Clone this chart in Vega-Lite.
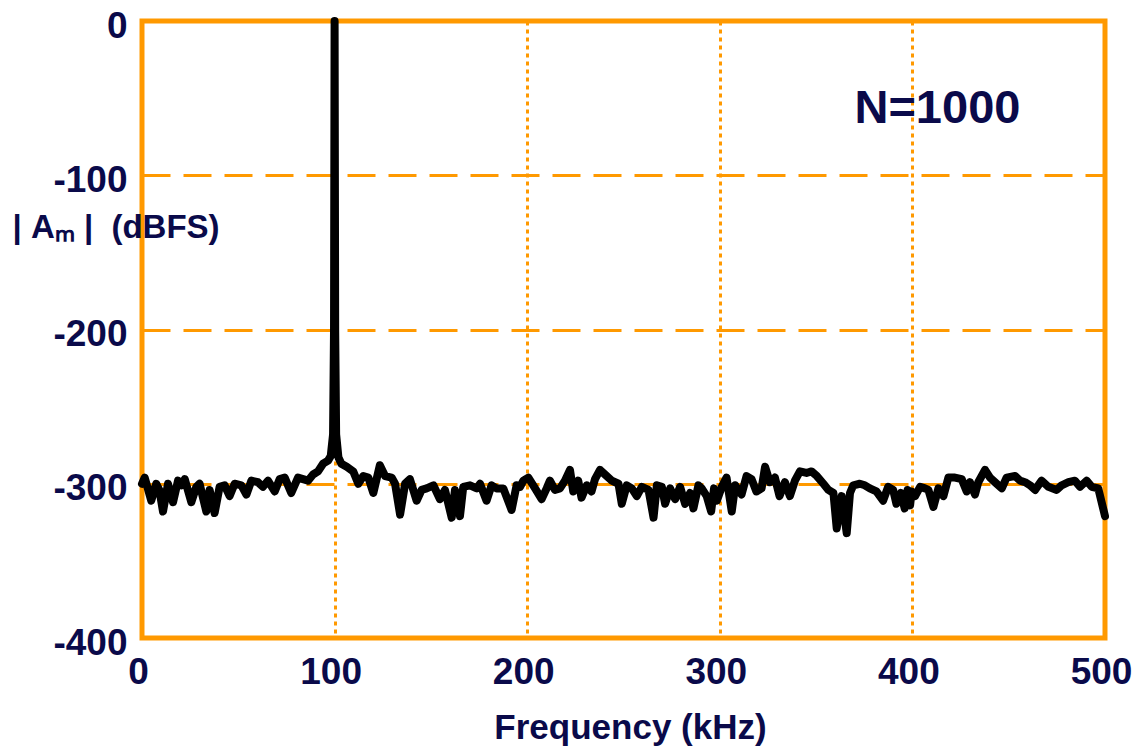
{
  "$schema": "https://vega.github.io/schema/vega-lite/v6.json",
  "width": 963,
  "height": 617,
  "autosize": "none",
  "padding": {"left": 142, "top": 21, "right": 33, "bottom": 109},
  "background": "white",
  "config": {
    "view": {"stroke": "#FF9900", "strokeWidth": 5},
    "axis": {
      "ticks": false,
      "domain": false,
      "labelFont": "Liberation Sans",
      "labelFontWeight": "bold",
      "labelFontSize": 37,
      "labelColor": "#0a0a4a",
      "labelExpr": "'' + datum.value",
      "titleFont": "Liberation Sans",
      "titleFontWeight": "bold",
      "titleColor": "#0a0a4a",
      "gridColor": "#FF9900",
      "gridOpacity": 1
    }
  },
  "layer": [
    {
      "data": {
        "values": [
          {"f": 0, "db": -300}, {"f": 1.4, "db": -296}, {"f": 3, "db": -303}, {"f": 4.8, "db": -311},
          {"f": 7.4, "db": -300}, {"f": 9, "db": -304}, {"f": 10.9, "db": -318}, {"f": 13.5, "db": -300},
          {"f": 16.1, "db": -312}, {"f": 18.7, "db": -298}, {"f": 20.5, "db": -301}, {"f": 22.2, "db": -297},
          {"f": 25.6, "db": -312}, {"f": 28.2, "db": -302}, {"f": 29.9, "db": -300}, {"f": 33.4, "db": -318},
          {"f": 35.1, "db": -304}, {"f": 37.7, "db": -319}, {"f": 40.3, "db": -302}, {"f": 42.9, "db": -301},
          {"f": 45.5, "db": -308}, {"f": 48.1, "db": -300}, {"f": 51.6, "db": -301}, {"f": 54.2, "db": -307},
          {"f": 56.8, "db": -298}, {"f": 60.2, "db": -299}, {"f": 62.8, "db": -302}, {"f": 65.4, "db": -298},
          {"f": 68.9, "db": -305}, {"f": 71.5, "db": -297}, {"f": 74.1, "db": -296}, {"f": 77.5, "db": -306},
          {"f": 81, "db": -296}, {"f": 83.6, "db": -297}, {"f": 86.2, "db": -298}, {"f": 88.8, "db": -294},
          {"f": 91.4, "db": -292}, {"f": 94, "db": -287}, {"f": 96.6, "db": -285}, {"f": 98, "db": -282},
          {"f": 99.2, "db": -268}, {"f": 99.7, "db": -200}, {"f": 100, "db": 0}, {"f": 100.3, "db": -200},
          {"f": 100.8, "db": -268}, {"f": 102, "db": -283}, {"f": 103.5, "db": -287}, {"f": 106.3, "db": -289},
          {"f": 109.7, "db": -292}, {"f": 112.3, "db": -300}, {"f": 114.9, "db": -295}, {"f": 117.5, "db": -296},
          {"f": 120.1, "db": -306}, {"f": 123.5, "db": -288}, {"f": 126.2, "db": -295}, {"f": 129.6, "db": -296},
          {"f": 131.4, "db": -300}, {"f": 134, "db": -320}, {"f": 136.6, "db": -300}, {"f": 139.1, "db": -297},
          {"f": 142.6, "db": -311}, {"f": 145.2, "db": -304}, {"f": 147.8, "db": -303}, {"f": 151.3, "db": -301},
          {"f": 154.7, "db": -310}, {"f": 157.3, "db": -304}, {"f": 160.8, "db": -322}, {"f": 162.5, "db": -304},
          {"f": 165.1, "db": -321}, {"f": 166.8, "db": -302}, {"f": 170.3, "db": -301}, {"f": 173.8, "db": -303},
          {"f": 175.5, "db": -300}, {"f": 178.9, "db": -311}, {"f": 181.5, "db": -301}, {"f": 184.1, "db": -303},
          {"f": 187.6, "db": -303}, {"f": 191.9, "db": -317}, {"f": 194.5, "db": -301}, {"f": 196.3, "db": -302},
          {"f": 198, "db": -298}, {"f": 200.6, "db": -296}, {"f": 204.1, "db": -303}, {"f": 207.5, "db": -310},
          {"f": 210.1, "db": -303}, {"f": 211.8, "db": -298}, {"f": 214.4, "db": -304}, {"f": 217, "db": -303},
          {"f": 219.6, "db": -298}, {"f": 222.2, "db": -291}, {"f": 223.9, "db": -305}, {"f": 226.5, "db": -298},
          {"f": 228.2, "db": -309}, {"f": 230.9, "db": -301}, {"f": 233.4, "db": -305}, {"f": 235.2, "db": -297},
          {"f": 237.8, "db": -291}, {"f": 240.4, "db": -294}, {"f": 243.9, "db": -298}, {"f": 247.4, "db": -300},
          {"f": 249.1, "db": -313}, {"f": 251.7, "db": -301}, {"f": 254.3, "db": -303}, {"f": 256.9, "db": -308},
          {"f": 259.5, "db": -302}, {"f": 263, "db": -304}, {"f": 265.6, "db": -322}, {"f": 267.3, "db": -301},
          {"f": 269.9, "db": -302}, {"f": 271.6, "db": -313}, {"f": 274.2, "db": -303}, {"f": 276.8, "db": -310},
          {"f": 279.4, "db": -302}, {"f": 282, "db": -313}, {"f": 284.6, "db": -306}, {"f": 286.3, "db": -316},
          {"f": 288.9, "db": -301}, {"f": 290.6, "db": -303}, {"f": 293.2, "db": -308}, {"f": 295.5, "db": -318},
          {"f": 297, "db": -303}, {"f": 298.5, "db": -311}, {"f": 301, "db": -302}, {"f": 303.5, "db": -296},
          {"f": 306.2, "db": -318}, {"f": 308, "db": -301}, {"f": 311.3, "db": -307}, {"f": 313.9, "db": -295},
          {"f": 316.5, "db": -297}, {"f": 319, "db": -305}, {"f": 321.7, "db": -303}, {"f": 323.5, "db": -289},
          {"f": 326, "db": -299}, {"f": 328.6, "db": -296}, {"f": 331, "db": -308}, {"f": 333.8, "db": -299},
          {"f": 336.4, "db": -308}, {"f": 339, "db": -298}, {"f": 341.6, "db": -292}, {"f": 345, "db": -293},
          {"f": 347.6, "db": -292}, {"f": 350.4, "db": -295}, {"f": 353.8, "db": -300}, {"f": 356.4, "db": -304},
          {"f": 359, "db": -306}, {"f": 360.7, "db": -329}, {"f": 363.3, "db": -308}, {"f": 365.9, "db": -332},
          {"f": 367.6, "db": -306}, {"f": 369.3, "db": -301}, {"f": 372.7, "db": -300}, {"f": 375.3, "db": -301},
          {"f": 377.9, "db": -303}, {"f": 381.3, "db": -305}, {"f": 384.8, "db": -311}, {"f": 387.4, "db": -302},
          {"f": 390, "db": -304}, {"f": 391.7, "db": -313}, {"f": 394, "db": -306}, {"f": 396, "db": -316},
          {"f": 397.5, "db": -304}, {"f": 398.8, "db": -314}, {"f": 399.6, "db": -305}, {"f": 401.4, "db": -308},
          {"f": 404, "db": -302}, {"f": 406.5, "db": -303}, {"f": 408.3, "db": -304}, {"f": 410.9, "db": -315},
          {"f": 413.5, "db": -303}, {"f": 416.1, "db": -308}, {"f": 418.7, "db": -296}, {"f": 422.1, "db": -296},
          {"f": 425.6, "db": -297}, {"f": 428.2, "db": -305}, {"f": 429.9, "db": -299}, {"f": 432.5, "db": -307},
          {"f": 434.2, "db": -299}, {"f": 437.7, "db": -291}, {"f": 440.3, "db": -296}, {"f": 442.9, "db": -299},
          {"f": 446.4, "db": -303}, {"f": 448.9, "db": -296}, {"f": 453.3, "db": -295}, {"f": 455.9, "db": -298},
          {"f": 458.5, "db": -299}, {"f": 461.1, "db": -301}, {"f": 463.7, "db": -304}, {"f": 467.1, "db": -298},
          {"f": 470.6, "db": -302}, {"f": 474.9, "db": -304}, {"f": 477.5, "db": -301}, {"f": 481, "db": -299},
          {"f": 484.4, "db": -298}, {"f": 487, "db": -302}, {"f": 490.5, "db": -298}, {"f": 493.1, "db": -302},
          {"f": 496.5, "db": -303}, {"f": 500, "db": -321}
        ]
      },
      "mark": {"type": "line", "color": "black", "strokeWidth": 8, "strokeJoin": "round", "strokeCap": "round", "clip": false},
      "encoding": {
        "x": {
          "field": "f", "type": "quantitative",
          "scale": {"domain": [0, 500], "nice": false, "zero": false},
          "axis": {
            "values": [0, 100, 200, 300, 400, 500],
            "grid": true, "gridDash": [4, 4], "gridWidth": 3,
            "labelPadding": 16, "labelFlush": false, "labelOffset": -4,
            "title": "Frequency (kHz)", "titleFontSize": 35,
            "titleAlign": "center", "titleBaseline": "alphabetic",
            "titleX": 488, "titleY": 100
          }
        },
        "y": {
          "field": "db", "type": "quantitative",
          "scale": {"domain": [-400, 0], "nice": false, "zero": false},
          "axis": {
            "values": [-400, -300, -200, -100, 0],
            "grid": true, "gridDash": [28, 13], "gridWidth": 3,
            "labelPadding": 15, "labelOffset": 5,
            "title": "|\u00a0Aₘ\u00a0|\u00a0\u00a0(dBFS)", "titleFontSize": 33, "titleAngle": 0,
            "titleAlign": "left", "titleBaseline": "alphabetic",
            "titleX": -130, "titleY": 216
          }
        }
      }
    },
    {
      "data": {"values": [{"f": 413, "db": -57, "label": "N=1000"}]},
      "mark": {"type": "text", "font": "Liberation Sans", "fontWeight": "bold", "fontSize": 47, "color": "#0a0a4a", "align": "center", "baseline": "middle"},
      "encoding": {
        "x": {"field": "f", "type": "quantitative"},
        "y": {"field": "db", "type": "quantitative"},
        "text": {"field": "label"}
      }
    }
  ]
}
